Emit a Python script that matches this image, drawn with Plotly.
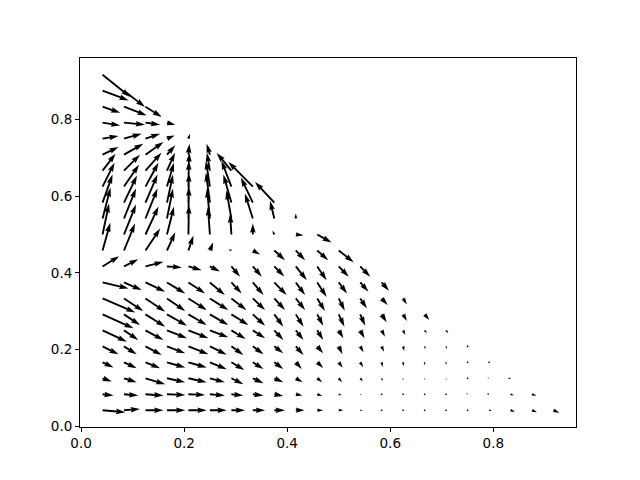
import math
import plotly.graph_objects as go

# grid positions on both axes (k/24)
grid = [0.0417, 0.0833, 0.125, 0.1667, 0.2083, 0.25, 0.2917, 0.3333, 0.375, 0.4167,
        0.4583, 0.5, 0.5417, 0.5833, 0.625, 0.6667, 0.7083, 0.75, 0.7917, 0.8333,
        0.875, 0.9167]

# arrow components, in screen px (right, up).
# row k is at y = grid[k]; entry m of a row is at x = grid[m]
dx_rows = [
    [22.7, 16, 18, 18.3, 18.3, 16.8, 13.7, 12.3, 10.7, 8.7, 6, 4.7, 2.7, 1.5, 1.2, 1.2, 1.2, 1.5, 3, 4.5, 5, 6],
    [11, 14.3, 18, 18.3, 16.7, 15, 12, 10.7, 9, 6.7, 5, 3, 2, 1, 1, 1, 1.5, -1.5, -2.5, 3.5, 4.5],
    [9.3, 12.7, 19.7, 18.3, 18.3, 15, 12, 10.7, 9, 6.7, 5, 3.3, 2.7, 1, 0, 0.7, 0.7, -0.5, -2, -3],
    [11, 12.7, 14.7, 18.3, 18.3, 16.8, 13, 10.7, 9, 6, 6, 4, 3, 1, 0.3, 0, 0, 0, -1.5],
    [16, 12.7, 16.3, 18.3, 20, 16.8, 12, 10.7, 9, 7.7, 6, 3.7, 3.3, 2.3, 1, 0.7, 0.7, 0],
    [24.3, 14.3, 18, 20, 20, 18.4, 14.3, 12.3, 9, 7.7, 6, 4.7, 4.3, 3.3, 2, 2.3, 2.3],
    [31, 16, 19.7, 20, 18.3, 18.4, 17, 12.3, 9, 7.7, 6, 5.7, 5, 5, 3.7, 4.7],
    [32.7, 19.3, 19.7, 18.3, 18.3, 18.4, 15, 12.3, 10.7, 9.3, 7.7, 6, 6.7, 6, 3.7],
    [26, 17.7, 19.7, 18.3, 16.7, 15, 10.3, 10.7, 12.3, 9.3, 9.3, 8.3, 8.3, 7.3],
    [16.7, 14.3, 18, 15, 13.3, 10, 8.7, 9, 10, 11, 9.3, 10, 10],
    [7.7, 11, 14.7, 8.3, 5, 3.3, -3, 7.3, 10.7, 9.3, 11, 15],
    [6.5, 12, 13, 7, 0.5, -2, -1.3, 0, -2, 7.7, 14.3],
    [8, 12, 12, 6, 0.5, -3, -5, -8, -4.3, 0],
    [10, 13, 12, 6, 0.5, -4, -8, -12, -19.3],
    [12, 15, 13, 7, 0.5, -4, -10, -24.5],
    [13, 16, 16, 8, 1, -3, -14.7],
    [16, 19.3, 18, 8.3, 1, -3.3],
    [16, 17.7, 14.7, 7.7, 1.7],
    [17.7, 21, 14.7, 8.3],
    [17.7, 22.7, 16.3],
    [26, 21],
    [27.7],
]
dy_rows = [
    [-2, 1.3, 0, 0, 0, 0, 0, 0, 0, 0, 0, 0, 0, 0, 0, 0, 0, 0, -0.5, -1.5, -2, -2.5],
    [-1.3, -1.3, -1.3, -0.7, -0.7, -1.3, -1.3, -1.3, -1.7, -1.3, -1.7, -1, -0.5, 0, 0, 0, 0.5, 1.5, 0.5, -1, -1.5],
    [-3.3, -4, -6, -4, -4, -4, -6, -5, -4, -4, -4, -4, -3.3, -3, -2.5, -2, -2, 1, 0.5, 0],
    [-5.3, -6, -6, -5.3, -5.3, -7, -7.7, -6.7, -6.7, -6.7, -5.7, -5.5, -5, -4.7, -4, -3, -2.7, 1.5, 1],
    [-8, -8, -8.7, -7, -8, -8.3, -8.7, -8, -7, -8.7, -7, -8, -6, -5.3, -4.7, -3, -2.7, 1.5],
    [-11.3, -9.7, -9.7, -8, -8, -7, -8.7, -8, -9.7, -9.7, -9.7, -8, -8, -6.3, -4.7, -3, -3],
    [-14, -10.7, -12.3, -11.3, -10.7, -10.7, -10.7, -11.3, -12.3, -12.3, -11.3, -12.3, -11.3, -8, -6.7, -5.7],
    [-14, -12.7, -13.3, -12.7, -11.7, -11.7, -11.7, -11.7, -11.7, -11.7, -12.7, -12.3, -10, -6.7, -6],
    [-6, -7.7, -9.3, -11, -11, -12.7, -11, -12.7, -12.7, -12.7, -14.3, -11, -9.3, -8.3],
    [10.3, 7.3, 4.7, -1, -3.7, -5, -10.3, -10.3, -10, -13.7, -13.7, -10.3, -10.3],
    [27.7, 27, 22, 18.3, 15, 8.3, 1, -4, -9.7, -9.7, -9.7, -11.7],
    [31, 30, 28, 28, 30, 28, 21, 11, 4, -0.7, -8],
    [31, 30, 30, 30, 32, 30, 28, 25, 17.7, 5],
    [28, 27, 28, 28, 30, 30, 28, 25, 20.7],
    [24, 22, 24, 24, 26, 26, 26, 24.7],
    [17, 16, 18, 18, 18, 18, 17.7],
    [7.7, 11, 12.7, 9.3, 11, 11],
    [2.7, 5, 5, 3.3, 5],
    [-2.7, -2, -2, -2],
    [-6, -8.7, -10.3],
    [-9.7, -16.3],
    [-22.3],
]

axis_range = [-0.00208, 0.96042]
ticks = [0.0, 0.2, 0.4, 0.6, 0.8]

# the page body adds an 8px offset, so the figure is 8px smaller and
# the left/top margins 8px tighter to land the axes box where matplotlib puts it
margin = dict(l=72, r=64, t=49.6, b=52.8)
fig_w, fig_h = 632, 472
plot_w = fig_w - margin["l"] - margin["r"]
plot_h = fig_h - margin["t"] - margin["b"]
sx = plot_w / (axis_range[1] - axis_range[0])
sy = plot_h / (axis_range[1] - axis_range[0])
n_arrows = sum(len(r) for r in dx_rows)
shaft = 0.06 * plot_w / max(10, math.sqrt(n_arrows))


def arrow_outline(x0, y0, u, v):
    """quiver-style arrow polygon, built in pixels then mapped to data units"""
    length = math.hypot(u, v) / shaft
    ang = math.atan2(v, u)
    if length < 1:
        pts = [(0.5 * math.cos(k * math.pi / 3), 0.5 * math.sin(k * math.pi / 3)) for k in range(7)]
        ang = 0.0
    elif length >= 5:
        xs = [0, length - 4.5, length - 5, length, length - 5, length - 4.5, 0, 0]
        ys = [0.5, 0.5, 1.5, 0, -1.5, -0.5, -0.5, 0.5]
        pts = list(zip(xs, ys))
    else:
        s = length / 5
        xs = [0, 0.5, 0, 5, 0, 0.5, 0, 0]
        ys = [0.5, 0.5, 1.5, 0, -1.5, -0.5, -0.5, 0.5]
        pts = [(a * s, b * s) for a, b in zip(xs, ys)]
    ca, sa = math.cos(ang), math.sin(ang)
    out_x, out_y = [], []
    for a, b in pts:
        px = (a * ca - b * sa) * shaft
        py = (a * sa + b * ca) * shaft
        out_x.append(x0 + px / sx)
        out_y.append(y0 + py / sy)
    return out_x, out_y


poly_x, poly_y = [], []
for k, (urow, vrow) in enumerate(zip(dx_rows, dy_rows)):
    for m, (u, v) in enumerate(zip(urow, vrow)):
        ax_, ay_ = arrow_outline(grid[m], grid[k], u, v)
        poly_x += ax_ + [None]
        poly_y += ay_ + [None]

fig = go.Figure(go.Scatter(
    x=poly_x, y=poly_y,
    mode="lines",
    fill="toself",
    fillcolor="black",
    line=dict(width=0, color="black"),
    hoverinfo="skip",
    showlegend=False,
))

axis_style = dict(
    range=axis_range,
    tickvals=ticks,
    ticktext=[f"{t:.1f}" for t in ticks],
    showgrid=False,
    zeroline=False,
    showline=True,
    mirror=True,
    linecolor="black",
    linewidth=1,
    ticks="outside",
    ticklen=4,
    tickwidth=1,
    tickcolor="black",
    tickfont=dict(family="DejaVu Sans", size=13.5, color="black"),
)

fig.update_layout(
    width=fig_w,
    height=fig_h,
    margin=margin,
    paper_bgcolor="white",
    plot_bgcolor="white",
    xaxis=axis_style,
    yaxis=axis_style,
)

fig.write_html("out.html")
